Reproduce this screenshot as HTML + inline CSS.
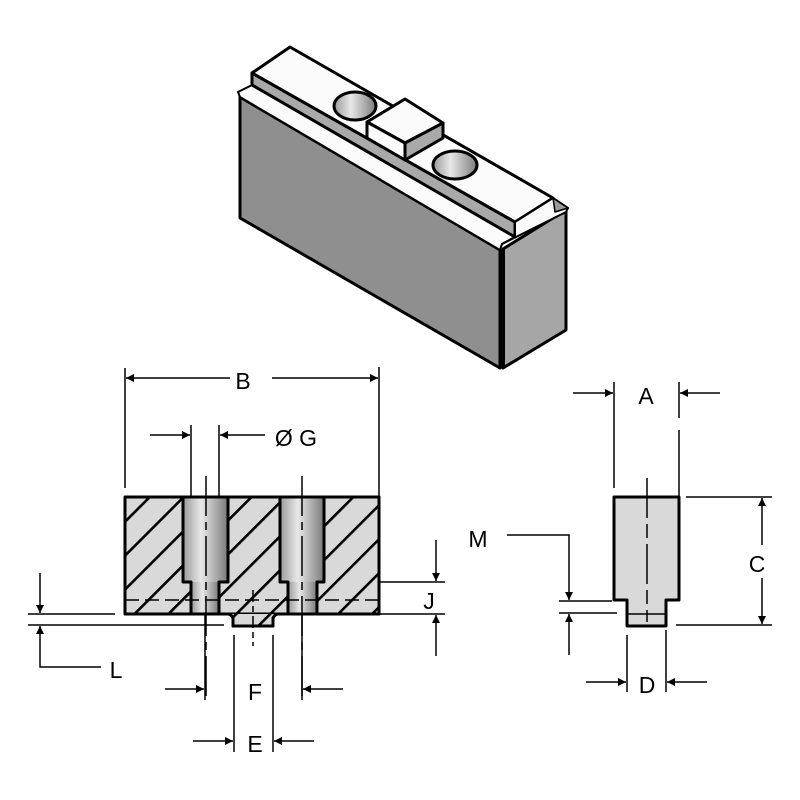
<!DOCTYPE html>
<html><head><style>html,body{margin:0;padding:0;background:#fff}svg{display:block}text{font-family:"Liberation Sans",sans-serif;font-size:23px;fill:#000}</style></head>
<body>
<svg width="800" height="800" viewBox="0 0 800 800" xmlns="http://www.w3.org/2000/svg">
<defs>
<linearGradient id="hole" x1="0" x2="1"><stop offset="0" stop-color="#9a9a9a"/><stop offset="0.4" stop-color="#e8e8e8"/><stop offset="1" stop-color="#7a7a7a"/></linearGradient>
<pattern id="hatch" patternUnits="userSpaceOnUse" width="24" height="24" patternTransform="rotate(45)">
<rect width="24" height="24" fill="#d9d9d9"/><rect x="0" y="0" width="2.6" height="24" fill="#000"/></pattern>
<marker id="ar" viewBox="0 0 10 10" refX="10" refY="5" markerWidth="18" markerHeight="8" markerUnits="userSpaceOnUse" orient="auto"><path d="M0,0L10,5L0,10z" fill="#000"/></marker>
</defs>
<g stroke="#000" stroke-width="3" stroke-linejoin="round">
<!-- isometric block -->
<polygon points="240,97 500,250 500,368 240,218" fill="#8f8f8f"/>
<polygon points="503,249 566,210 566,330 503,368" fill="#a6a6a6"/>
<polygon points="238,92 252,85 515,237 502,244 500,250 240,97" fill="#fafafa" stroke-width="2"/>
<polygon points="252,73 515,222 515,237 252,85" fill="#a9a9a9"/>
<polygon points="252,73 290,47 553,198 515,222" fill="#fbfbfb"/>
<polygon points="515,222 553,198 568,208 566,212 502,244 515,237" fill="#fafafa" stroke-width="2"/>
<polygon points="553,198 568,208 555,212" fill="#999" stroke-width="1.5"/>
<line x1="500" y1="250" x2="500" y2="368" stroke-width="3"/>
<line x1="504" y1="248" x2="504" y2="366" stroke-width="2"/>
<ellipse cx="355" cy="106" rx="21" ry="14" fill="url(#hole)"/>
<ellipse cx="455" cy="165" rx="22" ry="14" fill="url(#hole)"/>
<polygon points="367,122 405,99 443,123 405,143" fill="#fbfbfb"/>
<polygon points="405,143 443,123 443,138 405,160" fill="#a9a9a9"/>
<polygon points="367,122 405,143 405,160 367,138" fill="#fbfbfb"/>
<!-- section view -->
<rect x="125" y="497" width="254" height="117" fill="url(#hatch)"/>
<path d="M228,614 Q231,614 233,618 L233,626 L273,626 L273,618 Q275,614 278,614" fill="url(#hatch)"/>
<rect x="183" y="497" width="45" height="85" fill="url(#hole)" stroke="none"/>
<rect x="191" y="582" width="28" height="32" fill="url(#hole)" stroke="none"/>
<rect x="280" y="497" width="44" height="85" fill="url(#hole)" stroke="none"/>
<rect x="288" y="582" width="29" height="32" fill="url(#hole)" stroke="none"/>
<path d="M183,497V582H191V614M228,497V582H219V614M280,497V582H288V614M324,497V582H317V614" fill="none"/>
<path d="M125,497H379V614H278M228,614H125V497" fill="none"/>
<path d="M228,614Q231,614 233,618V626H273V618Q275,614 278,614" fill="none"/>
<line x1="125" y1="600" x2="379" y2="600" stroke-width="1.5" stroke-dasharray="14,6"/>
<!-- right view -->
<path d="M614,497H679V600H666V626H627V600H614Z" fill="#d9d9d9"/>
<line x1="627" y1="614" x2="666" y2="614" stroke-width="1.5"/>
</g>
<g stroke="#000" stroke-width="1.5" fill="none">
<line x1="206" y1="476" x2="206" y2="700" stroke-dasharray="40,6,8,6"/>
<line x1="302" y1="476" x2="302" y2="700" stroke-dasharray="40,6,8,6"/>
<line x1="253" y1="590" x2="253" y2="646" stroke-dasharray="12,4,6,4"/>
<line x1="647" y1="478" x2="647" y2="622" stroke-dasharray="40,6,14,6"/>
<line x1="125" y1="368" x2="125" y2="488"/><line x1="379" y1="367" x2="379" y2="497"/>
<line x1="230" y1="378" x2="126" y2="378" marker-end="url(#ar)"/>
<line x1="272" y1="378" x2="378" y2="378" marker-end="url(#ar)"/>
<line x1="191" y1="425" x2="191" y2="497"/><line x1="219" y1="425" x2="219" y2="497"/>
<line x1="150" y1="435" x2="190" y2="435" marker-end="url(#ar)"/>
<line x1="265" y1="435" x2="220" y2="435" marker-end="url(#ar)"/>
<line x1="379" y1="582" x2="445" y2="582"/><line x1="379" y1="614" x2="445" y2="614"/>
<line x1="436" y1="540" x2="436" y2="581" marker-end="url(#ar)"/>
<line x1="436" y1="656" x2="436" y2="615" marker-end="url(#ar)"/>
<line x1="28" y1="614" x2="115" y2="614"/><line x1="28" y1="625" x2="224" y2="625"/>
<line x1="40" y1="573" x2="40" y2="613" marker-end="url(#ar)"/>
<polyline points="101,667 40,667 40,626" marker-end="url(#ar)"/>
<line x1="205" y1="614" x2="205" y2="700"/><line x1="302" y1="614" x2="302" y2="700"/>
<line x1="165" y1="689" x2="204" y2="689" marker-end="url(#ar)"/>
<line x1="343" y1="689" x2="303" y2="689" marker-end="url(#ar)"/>
<line x1="234" y1="635" x2="234" y2="752"/><line x1="273" y1="635" x2="273" y2="752"/>
<line x1="193" y1="741" x2="233" y2="741" marker-end="url(#ar)"/>
<line x1="314" y1="741" x2="274" y2="741" marker-end="url(#ar)"/>
<line x1="614" y1="382" x2="614" y2="488"/><line x1="679" y1="382" x2="679" y2="418"/><line x1="679" y1="430" x2="679" y2="497"/>
<line x1="573" y1="393" x2="613" y2="393" marker-end="url(#ar)"/>
<line x1="720" y1="393" x2="680" y2="393" marker-end="url(#ar)"/>
<line x1="686" y1="497" x2="772" y2="497"/><line x1="676" y1="625" x2="772" y2="625"/>
<line x1="762" y1="545" x2="762" y2="498" marker-end="url(#ar)"/>
<line x1="762" y1="578" x2="762" y2="624" marker-end="url(#ar)"/>
<polyline points="507,535 569,535 569,600" marker-end="url(#ar)"/>
<line x1="559" y1="601" x2="612" y2="601"/><line x1="559" y1="613" x2="617" y2="613"/>
<line x1="569" y1="655" x2="569" y2="614" marker-end="url(#ar)"/>
<line x1="627" y1="635" x2="627" y2="692"/><line x1="666" y1="630" x2="666" y2="692"/>
<line x1="586" y1="682" x2="626" y2="682" marker-end="url(#ar)"/>
<line x1="707" y1="682" x2="667" y2="682" marker-end="url(#ar)"/>
</g>
<text x="243" y="389" text-anchor="middle">B</text>
<text x="296" y="446" text-anchor="middle">Ø G</text>
<text x="646" y="404" text-anchor="middle">A</text>
<text x="757" y="572" text-anchor="middle">C</text>
<text x="478" y="547" text-anchor="middle">M</text>
<text x="429" y="609" text-anchor="middle">J</text>
<text x="116" y="678" text-anchor="middle">L</text>
<text x="255" y="700" text-anchor="middle">F</text>
<text x="255" y="752" text-anchor="middle">E</text>
<text x="647" y="693" text-anchor="middle">D</text>
</svg>
</body></html>
